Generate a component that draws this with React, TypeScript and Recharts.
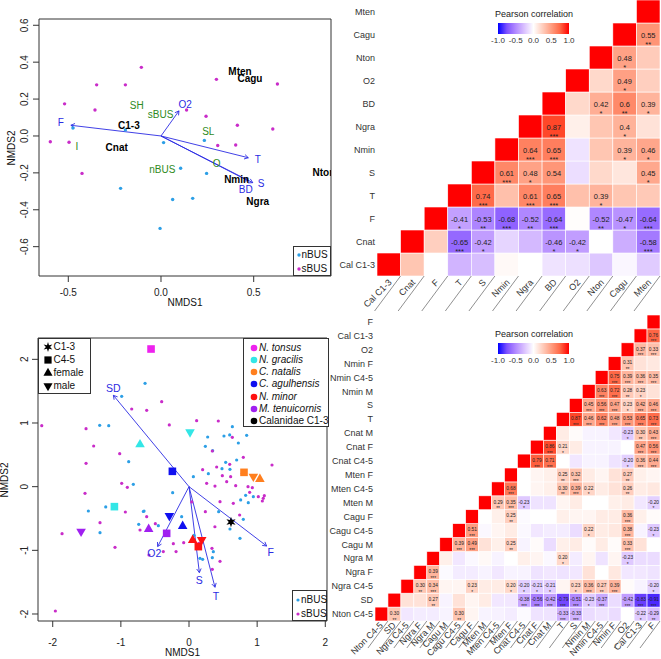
import React from 'react';
import { ScatterChart, Scatter, XAxis, YAxis, ReferenceLine, ReferenceArea } from 'recharts';

const FONT = '"Liberation Sans", Arial, Helvetica, sans-serif';
const NBUS_COL = '#2C9FE6';
const SBUS_COL = '#C92CC9';
const ARROW_COL = '#2B2BE3';
const FACTOR_COL = '#2E8B22';
const FRAME = '#333';

// ---------- top left: NMDS of stations ----------
const topNbus = [
  [-0.475, 0.043], [-0.192, 0.033], [0.014, -0.036], [0.234, -0.024], [0.106, -0.175],
  [0.246, -0.203], [-0.218, -0.284], [0.063, -0.344], [0.171, -0.338], [-0.005, -0.501],
];
const topSbus = [
  [-0.106, 0.372], [-0.347, 0.277], [-0.192, 0.277], [-0.52, 0.174], [-0.356, 0.141],
  [0.138, 0.141], [0.299, 0.307], [0.628, 0.282], [0.243, 0.107], [0.412, 0.058],
  [0.603, 0.038], [-0.597, -0.031], [-0.496, -0.034], [0.306, -0.052], [0.403, -0.049],
  [-0.426, -0.203],
];
const topVectors = [
  { name: 'F', x: -0.486, y: 0.058, lx: -0.541, ly: 0.072 },
  { name: 'O2', x: 0.097, y: 0.136, lx: 0.131, ly: 0.172 },
  { name: 'T', x: 0.471, y: -0.118, lx: 0.522, ly: -0.127 },
  { name: 'S', x: 0.495, y: -0.253, lx: 0.54, ly: -0.257 },
  { name: 'BD', x: 0.47, y: -0.243, lx: 0.457, ly: -0.289 },
];
const topTaxa = [
  { name: 'Mten', x: 0.426, y: 0.349 }, { name: 'Cagu', x: 0.48, y: 0.309 },
  { name: 'Nton', x: 0.879, y: -0.199 }, { name: 'C1-3', x: -0.173, y: 0.058 },
  { name: 'Cnat', x: -0.239, y: -0.063 }, { name: 'Nmin', x: 0.408, y: -0.235 },
  { name: 'Ngra', x: 0.522, y: -0.354 },
];
const topFactors = [
  { name: 'SH', x: -0.131, y: 0.163 }, { name: 'sBUS', x: -0.002, y: 0.114 },
  { name: 'SL', x: 0.255, y: 0.024 }, { name: 'I', x: -0.453, y: -0.058 },
  { name: 'nBUS', x: 0.007, y: -0.181 }, { name: 'O', x: 0.3, y: -0.148 },
];

// ---------- bottom left: NMDS of samples ----------
const botNbus = [
  [-0.645, 1.623], [-0.988, 1.419], [-1.311, 0.963], [-1.178, 0.958], [-0.885, 0.393],
  [-0.817, 0.037], [-1.477, -0.382], [-1.222, -0.319], [-1.306, -0.723], [-0.738, -0.592],
  [-0.66, -0.382], [-0.45, -0.613], [-0.24, -0.094], [0.064, 0.157], [0.284, 0.204],
  [0.24, 0.634], [0.274, 0.78], [0.347, 0.565], [0.513, 0.796], [0.597, 0.812],
  [0.636, 0.942], [0.846, 0.806], [0.724, 0.686], [0.699, 0.419], [0.538, 0.382],
  [0.601, 0.272], [0.831, -0.136], [0.87, -0.251], [0.944, -0.157], [0.797, -0.513],
  [0.748, -0.812], [0.601, -0.665], [0.2, -1.141], [0.342, -1.115], [0.357, -1.021],
  [0.161, -1.126], [0.073, -0.764], [0.435, -0.393], [0.758, -0.209], [0.484, 0.283],
  [-0.108, -0.471], [-0.67, -0.39],
];
const botSbus = [
  [-2.161, 0.958], [-1.511, 0.911], [-1.399, 0.639], [-1.511, 0.366], [-1.526, -0.105],
  [-1.306, -0.565], [-1.863, -0.738], [-1.086, -0.953], [-1.961, -1.953], [-1.017, 0.518],
  [-0.841, 1.22], [-0.621, 1.199], [-0.401, 1.335], [-0.289, 0.969], [0.112, 1.037],
  [0.43, 1.031], [0.636, 0.775], [-0.988, 0.052], [-0.905, -0.01], [-0.934, -0.398],
  [-0.621, -0.471], [-0.494, -0.581], [-0.719, -0.681], [-0.23, -0.895], [-0.078, -0.88],
  [0.337, -0.969], [0.455, -1.173], [0.342, -1.298], [0.24, -0.393], [0.259, 0.052],
  [0.381, 0.01], [0.2, 0.267], [0.342, 0.56], [0.489, 0.173], [0.611, 0.157],
  [0.685, 0.016], [0.782, 0.209], [0.797, 0.461], [0.866, 0.0], [0.89, -0.089],
  [0.929, -0.016], [1.017, -0.157], [1.105, -0.141], [1.09, -0.183], [1.218, 0.34],
  [1.076, -0.225], [0.743, -0.445], [0.65, -0.262], [0.597, 0.351], [0.406, 0.309],
  [-0.587, -1.073], [0.147, -0.89], [0.553, 0.079], [0.04, -0.24], [0.455, -0.236],
  [0.38, -0.63], [-0.377, -1.02], [-0.19, -1.02],
];
const botVectors = [
  { name: 'SD', x: -1.11, y: 1.435, lx: -1.11, ly: 1.545 },
  { name: 'F', x: 1.139, y: -0.932, lx: 1.198, ly: -1.031 },
  { name: 'O2', x: -0.46, y: -0.94, lx: -0.509, ly: -1.047 },
  { name: 'S', x: 0.152, y: -1.35, lx: 0.152, ly: -1.466 },
  { name: 'T', x: 0.381, y: -1.58, lx: 0.396, ly: -1.712 },
];
const speciesNames = ['N. tonsus', 'N. gracilis', 'C. natalis', 'C. agulhensis', 'N. minor', 'M. tenuicornis', 'Calanidae C1-3'];
const speciesColors = ['#EE22EE', '#33E6E6', '#FF7F1E', '#1010F0', '#FF1010', '#A020F0', '#000000'];
const stageNames = ['C1-3', 'C4-5', 'female', 'male'];
const stageKeys = ['C1-3', 'C4-5', 'F', 'M'];
const nTonsus = [{ x: -0.557, y: 2.162, stage: 'C4-5' }];
const nGracilis = [{ x: -0.719, y: 0.665, stage: 'F' }, { x: 0.015, y: 0.853, stage: 'M' }, { x: -1.095, y: -0.314, stage: 'C4-5' }];
const cNatalis = [{ x: 0.807, y: 0.225, stage: 'C4-5' }, { x: 0.944, y: 0.157, stage: 'M' }, { x: 1.04, y: 0.12, stage: 'F' }];
const cAgulhensis = [{ x: -0.244, y: 0.241, stage: 'C4-5' }, { x: -0.288, y: -0.461, stage: 'M' }, { x: -0.093, y: -0.618, stage: 'F' }];
const nMinor = [{ x: 0.054, y: -0.838, stage: 'F' }, { x: 0.137, y: -0.942, stage: 'C4-5' }, { x: 0.186, y: -0.838, stage: 'M' }];
const mTenuicornis = [{ x: -1.584, y: -0.707, stage: 'M' }, { x: -0.592, y: -0.665, stage: 'F' }, { x: -0.328, y: -0.733, stage: 'C4-5' }];
const calanidae = [{ x: 0.616, y: -0.555, stage: 'C1-3' }];
const speciesData = [nTonsus, nGracilis, cNatalis, cAgulhensis, nMinor, mTenuicornis, calanidae];

// ---------- top right: correlation matrix (upper triangle, row i holds r(i, j>i)) ----------
const _ = null;
const topVars = ['Cal C1-3', 'Cnat', 'F', 'T', 'S', 'Nmin', 'Ngra', 'BD', 'O2', 'Nton', 'Cagu', 'Mten'];
const topR = [
  [0.3, 0.0, -0.32, -0.28, 0.03, 0.0, -0.12, -0.13, -0.24, -0.04, -0.22],
  [0.25, -0.65, -0.42, -0.18, -0.3, -0.46, -0.42, 0.0, -0.35, -0.58],
  [-0.41, -0.53, -0.68, -0.52, -0.64, 0.01, -0.52, -0.47, -0.64],
  [0.74, 0.33, 0.61, 0.65, 0.33, 0.39, 0.3, 0.28],
  [0.61, 0.48, 0.54, -0.14, 0.2, 0.13, 0.45],
  [0.64, 0.65, -0.12, 0.3, 0.39, 0.46],
  [0.87, 0.08, 0.3, 0.4, 0.15],
  [0.2, 0.42, 0.6, 0.39],
  [0.2, 0.49, 0.25],
  [0.48, 0.27],
  [0.55],
  [],
];
const topStars = [
  [_, _, _, _, _, _, _, _, _, _, _],
  [_, '***', '*', _, _, '*', '*', _, _, '***'],
  ['*', '**', '***', '**', '***', _, '**', '*', '***'],
  ['***', _, '***', '***', _, '*', _, _],
  ['***', '*', '', _, _, _, '*'],
  ['***', '***', _, _, '*', '*'],
  ['***', _, _, '*', _],
  [_, '*', '**', '*'],
  [_, '*', _],
  ['*', _],
  ['**'],
  [],
];

// ---------- bottom right: correlation matrix ----------
const botVars = ['Nton C4-5', 'SD', 'Ngra C4-5', 'Ngra F', 'Ngra M', 'Cagu M', 'Cagu C4-5', 'Cagu F', 'Mten M', 'Mten C4-5', 'Mten F',
  'Cnat C4-5', 'Cnat F', 'Cnat M', 'T', 'S', 'Nmin M', 'Nmin C4-5', 'Nmin F', 'O2', 'Cal C1-3', 'F'];
const botR = [
  [0.30, -0.10, -0.08, -0.08, -0.05, 0.30, 0.05, -0.05, -0.06, -0.08, -0.02, -0.12, -0.12, -0.33, -0.33, -0.15, -0.12, -0.15, 0.0, -0.22, -0.29],
  [0.15, 0.15, 0.27, -0.05, 0.15, 0.05, 0.1, -0.1, -0.1, -0.38, -0.56, -0.42, -0.79, -0.51, -0.23, -0.37, -0.15, -0.42, -0.83, -0.91],
  [0.30, 0.34, 0.05, 0.05, 0.23, 0.1, 0.1, 0.20, -0.20, -0.21, -0.21, 0.05, 0.23, 0.36, 0.27, 0.39, 0.02, -0.05, -0.20],
  [0.39, -0.02, -0.08, -0.08, -0.05, -0.1, -0.05, -0.05, -0.12, -0.1, -0.12, -0.1, 0.15, 0.0, 0.12, -0.1, -0.1, -0.12],
  [0.08, -0.1, -0.03, 0.03, -0.05, 0.0, 0.08, 0.05, -0.03, 0.20, -0.08, 0.05, -0.12, 0.05, -0.23, -0.15, -0.15],
  [0.39, 0.49, 0.15, 0.08, 0.25, -0.05, 0.02, -0.15, 0.08, 0.1, 0.02, 0.1, 0.02, 0.33, 0.15, 0.0],
  [0.51, -0.03, 0.05, 0.1, -0.03, -0.1, -0.08, -0.08, -0.15, 0.22, 0.1, 0.12, 0.38, -0.05, -0.23],
  [0.0, 0.08, 0.25, -0.02, 0.0, 0.0, 0.08, 0.05, 0.05, 0.1, 0.1, 0.36, 0.08, 0.02],
  [0.29, 0.35, -0.23, -0.12, -0.12, 0.05, 0.1, 0.0, 0.0, 0.08, 0.1, -0.1, -0.20],
  [0.68, 0.0, 0.05, 0.08, 0.30, 0.39, 0.22, 0.1, 0.15, 0.26, 0.1, 0.12],
  [0.0, 0.05, 0.08, 0.25, 0.32, 0.1, 0.05, 0.15, 0.27, 0.08, 0.05],
  [0.79, 0.71, 0.0, -0.1, -0.05, -0.05, -0.12, -0.20, 0.36, 0.44],
  [0.86, 0.21, 0.1, -0.05, -0.05, -0.05, 0.0, 0.47, 0.56],
  [0.1, 0.02, -0.05, -0.05, -0.1, -0.23, 0.30, 0.43],
  [0.87, 0.46, 0.62, 0.48, 0.53, 0.65, 0.73],
  [0.45, 0.56, 0.47, 0.23, 0.42, 0.46],
  [0.63, 0.72, 0.28, 0.23, 0.15],
  [0.75, 0.39, 0.36, 0.35],
  [0.31, 0.15, 0.12],
  [0.37, 0.33],
  [0.76],
  [],
];
const botStars = [
  ['**', _, _, _, _, '**', _, _, _, _, _, _, _, '***', '***', _, _, _, _, '*', '**'],
  [_, _, '**', _, _, _, _, _, _, '***', '***', '***', '***', '***', '*', '***', _, '***', '***', '***'],
  ['**', '***', _, _, '*', _, _, '*', '*', '*', '*', _, '*', '***', '**', '***', _, _, '*'],
  ['***', _, _, _, _, _, _, _, _, _, _, _, _, _, _, _, _, _],
  [_, _, _, _, _, _, _, _, _, '*', _, _, _, _, '*', _, _],
  ['***', '***', _, _, '**', _, _, _, _, _, _, _, _, '***', _, _],
  ['***', _, _, _, _, _, _, _, _, '*', _, _, '***', _, '*'],
  [_, _, '**', _, _, _, _, _, _, _, _, '***', _, _],
  ['**', '***', '*', _, _, _, _, _, _, _, _, _, '*'],
  ['***', _, _, _, '**', '***', '*', _, _, '**', _, _],
  [_, _, _, '**', '***', _, _, _, '**', _, _],
  ['***', '***', _, _, _, _, _, '*', '***', '***'],
  ['***', '*', _, _, _, _, _, '***', '***'],
  [_, _, _, _, _, '*', '**', '***'],
  ['***', '***', '***', '***', '***', '***', '***'],
  ['***', '***', '***', '*', '***', '***'],
  ['***', '***', '**', '*', _],
  ['***', '***', '***', '***'],
  ['**', _, _],
  ['***', '***'],
  ['***'],
  [],
];

// ---------- colour scale (blue - white - red, interpolated in Lab) ----------
const toLin = (c: number) => { c /= 255; return c <= 0.04045 ? c / 12.92 : Math.pow((c + 0.055) / 1.055, 2.4); };
const fromLin = (c: number) => {
  const v = c <= 0.0031308 ? 12.92 * c : 1.055 * Math.pow(c, 1 / 2.4) - 0.055;
  return Math.round(Math.min(1, Math.max(0, v)) * 255);
};
const EPS = 216 / 24389, KAP = 24389 / 27;
const fLab = (t: number) => (t > EPS ? Math.cbrt(t) : (KAP * t + 16) / 116);
const fInv = (t: number) => (t * t * t > EPS ? t * t * t : (116 * t - 16) / KAP);
function rgb2lab(rgb: number[]) {
  const [r, g, b] = rgb.map(toLin);
  const X = (0.4124564 * r + 0.3575761 * g + 0.1804375 * b) / 0.95047;
  const Y = 0.2126729 * r + 0.7151522 * g + 0.072175 * b;
  const Z = (0.0193339 * r + 0.119192 * g + 0.9503041 * b) / 1.08883;
  const fx = fLab(X), fy = fLab(Y), fz = fLab(Z);
  return [116 * fy - 16, 500 * (fx - fy), 200 * (fy - fz)];
}
function lab2rgb([L, a, b]: number[]) {
  const fy = (L + 16) / 116, fx = fy + a / 500, fz = fy - b / 200;
  const X = fInv(fx) * 0.95047, Y = L > 8 ? fy * fy * fy : L / KAP, Z = fInv(fz) * 1.08883;
  const r = 3.2404542 * X - 1.5371385 * Y - 0.4985314 * Z;
  const g = -0.969266 * X + 1.8760108 * Y + 0.041556 * Z;
  const bl = 0.0556434 * X - 0.2040259 * Y + 1.0572252 * Z;
  return `rgb(${fromLin(r)},${fromLin(g)},${fromLin(bl)})`;
}
const LAB_W = rgb2lab([255, 255, 255]);
const LAB_R = rgb2lab([255, 0, 0]);
const LAB_B = rgb2lab([0, 0, 255]);
const corrColor = (v: number) => {
  const t = Math.min(1, Math.abs(v));
  const end = v >= 0 ? LAB_R : LAB_B;
  return lab2rgb(LAB_W.map((w, k) => w + (end[k] - w) * t));
};

// ---------- shared pieces ----------
const toPts = (arr: number[][]) => arr.map(([x, y]) => ({ x, y }));

const dot = (color: string, r = 1.7) => (p: any) => <circle cx={p.cx} cy={p.cy} r={r} fill={color} />;

const textShape = (color: string, weight: string | number, size = 10) => (p: any) => (
  <text x={p.cx} y={p.cy} textAnchor="middle" dominantBaseline="central" fill={color}
    fontWeight={weight} fontSize={size} fontFamily={FONT}>{p.payload.name}</text>
);

const arrowShape = (p: any) => {
  const { x1, y1, x2, y2 } = p;
  const a = Math.atan2(y2 - y1, x2 - x1);
  const L = 4.5, w = Math.PI / 6;
  const d = `M${x2 - L * Math.cos(a - w)},${y2 - L * Math.sin(a - w)} L${x2},${y2} L${x2 - L * Math.cos(a + w)},${y2 - L * Math.sin(a + w)}`;
  return (
    <g>
      <line x1={x1} y1={y1} x2={x2} y2={y2} stroke={ARROW_COL} strokeWidth={0.9} />
      <path d={d} fill="none" stroke={ARROW_COL} strokeWidth={0.9} />
    </g>
  );
};

function StageMark({ x, y, stage, color, s = 1 }: any) {
  if (stage === 'C4-5') return <rect x={x - 3.8 * s} y={y - 3.8 * s} width={7.6 * s} height={7.6 * s} fill={color} />;
  if (stage === 'F') return <polygon points={`${x},${y - 5.4 * s} ${x + 4.8 * s},${y + 3 * s} ${x - 4.8 * s},${y + 3 * s}`} fill={color} />;
  if (stage === 'M') return <polygon points={`${x},${y + 5.4 * s} ${x + 4.8 * s},${y - 3 * s} ${x - 4.8 * s},${y - 3 * s}`} fill={color} />;
  const pts: string[] = [];
  for (let k = 0; k < 12; k++) {
    const ang = (Math.PI / 6) * k - Math.PI / 2;
    const r = k % 2 === 0 ? 5.3 * s : 2.2 * s;
    pts.push(`${x + r * Math.cos(ang)},${y + r * Math.sin(ang)}`);
  }
  return <polygon points={pts.join(' ')} fill={color} />;
}

const stageShape = (color: string) => (p: any) => <StageMark x={p.cx} y={p.cy} stage={p.payload.stage} color={color} />;

function XTick(p: any) {
  const { x, y, payload, dy, fmt } = p;
  return <text x={x} y={y + dy} textAnchor="middle" fontSize={10} fill="#222" fontFamily={FONT}>{fmt(payload.value)}</text>;
}
function YTick(p: any) {
  const { x, y, payload, dx, fmt } = p;
  const tx = x + dx;
  return <text x={tx} y={y} transform={`rotate(-90 ${tx} ${y})`} textAnchor="middle" fontSize={10} fill="#222" fontFamily={FONT}>{fmt(payload.value)}</text>;
}

function Txt({ x, y, rot = 0, size = 10, style, children }: any) {
  return (
    <div style={{ position: 'absolute', left: x, top: y, transform: `translate(-50%,-50%) rotate(${rot}deg)`, fontSize: size,
      lineHeight: 1, whiteSpace: 'nowrap', fontFamily: FONT, color: '#111', ...style }}>{children}</div>
  );
}

function Box({ left, top, width, height, children }: any) {
  return (
    <div style={{ position: 'absolute', left, top, width, height, border: `1px solid ${FRAME}`, boxSizing: 'border-box', background: '#fff', fontFamily: FONT }}>
      {children}
    </div>
  );
}

function LegendItem({ x, y, tx, label, italic, children }: any) {
  return (
    <>
      <svg style={{ position: 'absolute', left: x - 7, top: y - 7 }} width={14} height={14}>{children}</svg>
      <div style={{ position: 'absolute', left: tx, top: y - 6, fontSize: 10, lineHeight: '12px', whiteSpace: 'nowrap',
        fontStyle: italic ? 'italic' : 'normal', color: '#111' }}>{label}</div>
    </>
  );
}

// ---------- panels ----------
function TopNmds() {
  const xd = [-0.658, 0.917], yd = [-0.759, 0.634];
  const f1 = (v: number) => v.toFixed(1);
  return (
    <ScatterChart width={332} height={330} margin={{ top: 19, right: 1, bottom: 0, left: 0 }}>
      <XAxis type="number" dataKey="x" domain={xd} ticks={[-0.5, 0, 0.5]} allowDataOverflow axisLine={false}
        tickLine={{ stroke: FRAME }} tickSize={6} tickMargin={0} height={54} tick={<XTick dy={14.3} fmt={f1} />} />
      <YAxis type="number" dataKey="y" domain={yd} ticks={[-0.6, -0.4, -0.2, 0, 0.2, 0.4, 0.6]} allowDataOverflow axisLine={false}
        tickLine={{ stroke: FRAME }} tickSize={6} tickMargin={0} width={39} tick={<YTick dx={-5.4} fmt={f1} />} />
      <ReferenceArea x1={xd[0]} x2={xd[1]} y1={yd[0]} y2={yd[1]} fill="none" stroke={FRAME} strokeWidth={1} ifOverflow="visible" />
      <Scatter data={toPts(topNbus)} shape={dot(NBUS_COL)} isAnimationActive={false} />
      <Scatter data={toPts(topSbus)} shape={dot(SBUS_COL)} isAnimationActive={false} />
      {topVectors.map((v) => (
        <ReferenceLine key={v.name} segment={[{ x: 0, y: 0 }, { x: v.x, y: v.y }]} shape={arrowShape} ifOverflow="visible" />
      ))}
      <Scatter data={topFactors} shape={textShape(FACTOR_COL, 'normal')} isAnimationActive={false} />
      <Scatter data={topTaxa} shape={textShape('#000', 'bold')} isAnimationActive={false} />
      <Scatter data={topVectors.map((v) => ({ x: v.lx, y: v.ly, name: v.name }))} shape={textShape(ARROW_COL, 'normal')} isAnimationActive={false} />
    </ScatterChart>
  );
}

function BottomNmds() {
  const xd = [-2.216, 2.025], yd = [-2.11, 2.335];
  const f0 = (v: number) => String(v);
  return (
    <ScatterChart width={332} height={329} margin={{ top: 8, right: 5, bottom: 0, left: 0 }}>
      <XAxis type="number" dataKey="x" domain={xd} ticks={[-2, -1, 0, 1, 2]} allowDataOverflow axisLine={false}
        tickLine={{ stroke: FRAME }} tickSize={6} tickMargin={0} height={38} tick={<XTick dy={18.6} fmt={f0} />} />
      <YAxis type="number" dataKey="y" domain={yd} ticks={[-2, -1, 0, 1, 2]} allowDataOverflow axisLine={false}
        tickLine={{ stroke: FRAME }} tickSize={6} tickMargin={0} width={38} tick={<YTick dx={-4.4} fmt={f0} />} />
      <ReferenceArea x1={xd[0]} x2={xd[1]} y1={yd[0]} y2={yd[1]} fill="none" stroke={FRAME} strokeWidth={1} ifOverflow="visible" />
      <Scatter data={toPts(botNbus)} shape={dot(NBUS_COL, 1.6)} isAnimationActive={false} />
      <Scatter data={toPts(botSbus)} shape={dot(SBUS_COL, 1.6)} isAnimationActive={false} />
      {botVectors.map((v) => (
        <ReferenceLine key={v.name} segment={[{ x: 0, y: 0 }, { x: v.x, y: v.y }]} shape={arrowShape} ifOverflow="visible" />
      ))}
      {speciesData.map((d, k) => (
        <Scatter key={speciesNames[k]} data={d} shape={stageShape(speciesColors[k])} isAnimationActive={false} />
      ))}
      <Scatter data={botVectors.map((v) => ({ x: v.lx, y: v.ly, name: v.name }))} shape={textShape(ARROW_COL, 'normal', 10.5)} isAnimationActive={false} />
    </ScatterChart>
  );
}

function RowTick(p: any) {
  const { x, y, payload, names, fs } = p;
  return <text x={x} y={y} textAnchor="end" dominantBaseline="central" fontSize={fs} fill="#333" fontFamily={FONT}>{names[payload.value]}</text>;
}
function ColTick(p: any) {
  const { x, y, payload, names, fs, cw, ax, ay, lx, ly } = p;
  const tx = x + ax, ty = y + ay, rx = x + cw / 2;
  return (
    <g>
      <line x1={rx} y1={y} x2={rx + lx} y2={y + ly} stroke="#444" strokeWidth={0.6} />
      <text x={tx} y={ty} transform={`rotate(-45 ${tx} ${ty})`} textAnchor="end" fontSize={fs} fill="#333" fontFamily={FONT}>{names[payload.value]}</text>
    </g>
  );
}

function CorrMatrix({ names, vals, stars, fmt, w, h, yW, xH, top, rowFs, valFs, valDy, starDy, ax, ay, lx, ly }: any) {
  const n = names.length;
  const cw = (w - yW - 1) / n, ch = (h - top - xH) / n;
  const cells: any[] = [];
  names.forEach((_n: string, i: number) => {
    cells.push({ x: i, y: i, v: 1, s: null });
    vals[i].forEach((v: number, k: number) => cells.push({ x: i + 1 + k, y: i, v, s: stars[i][k] }));
  });
  const ticks = names.map((_n: string, i: number) => i);
  const cellShape = (p: any) => {
    const { cx, cy, payload } = p;
    const show = payload.s !== null && payload.s !== undefined;
    return (
      <g>
        <rect x={cx - cw / 2} y={cy - ch / 2} width={cw} height={ch} fill={corrColor(payload.v)} stroke="#fff" strokeWidth={0.6} />
        {show && (
          <text x={cx} y={cy + valDy} textAnchor="middle" dominantBaseline="central" fontSize={valFs} fill="#222" fontFamily={FONT}>{fmt(payload.v)}</text>
        )}
        {show && payload.s && (
          <text x={cx} y={cy + starDy} textAnchor="middle" fontSize={valFs} fill="#222" fontFamily={FONT}>{payload.s}</text>
        )}
      </g>
    );
  };
  return (
    <ScatterChart width={w} height={h} margin={{ top, right: 1, bottom: 0, left: 0 }}>
      <XAxis type="number" dataKey="x" domain={[-0.5, n - 0.5]} ticks={ticks} interval={0} allowDataOverflow axisLine={false}
        tickLine={false} tickSize={0} tickMargin={0} height={xH}
        tick={<ColTick names={names} fs={rowFs} cw={cw} ax={ax} ay={ay} lx={lx} ly={ly} />} />
      <YAxis type="number" dataKey="y" domain={[-0.5, n - 0.5]} ticks={ticks} interval={0} allowDataOverflow axisLine={false}
        tickLine={false} tickSize={0} tickMargin={2} width={yW} tick={<RowTick names={names} fs={rowFs} />} />
      <Scatter data={cells} shape={cellShape} isAnimationActive={false} />
    </ScatterChart>
  );
}

function ColorBar({ top }: any) {
  const steps = [-1, -0.75, -0.5, -0.25, 0, 0.25, 0.5, 0.75, 1];
  const grad = steps.map((v) => `${corrColor(v)} ${((v + 1) / 2) * 100}%`).join(', ');
  const x0 = 498, bw = 71;
  return (
    <>
      <div style={{ position: 'absolute', left: 495, top: top, fontSize: 9, lineHeight: '11px', fontFamily: FONT, color: '#222', whiteSpace: 'nowrap' }}>
        Pearson correlation
      </div>
      <div style={{ position: 'absolute', left: x0, top: top + 14, width: bw, height: 11, background: `linear-gradient(to right, ${grad})` }} />
      {[-1, -0.5, 0, 0.5, 1].map((v) => (
        <Txt key={v} x={x0 + ((v + 1) / 2) * bw} y={top + 32} size={8} style={{ color: '#333' }}>{v.toFixed(1)}</Txt>
      ))}
    </>
  );
}

export default function App() {
  return (
    <div style={{ position: 'absolute', left: 0, top: 0, width: 661, height: 659, background: '#fff', overflow: 'hidden', fontFamily: FONT }}>
      <div style={{ position: 'absolute', left: 0, top: 0 }}><TopNmds /></div>
      <Txt x={185} y={303}>NMDS1</Txt>
      <Txt x={11.7} y={147.5} rot={-90}>NMDS2</Txt>
      <Box left={293} top={246} width={38} height={30}>
        <LegendItem x={4.5} y={7.5} tx={7.5} label="nBUS"><circle cx={7} cy={7} r={1.7} fill={NBUS_COL} /></LegendItem>
        <LegendItem x={4.5} y={21.5} tx={7.5} label="sBUS"><circle cx={7} cy={7} r={1.7} fill={SBUS_COL} /></LegendItem>
      </Box>

      <div style={{ position: 'absolute', left: 0, top: 330 }}><BottomNmds /></div>
      <Txt x={182.5} y={652.7}>NMDS1</Txt>
      <Txt x={5} y={479.5} rot={-90}>NMDS2</Txt>
      <Box left={38} top={338} width={53} height={56}>
        {stageNames.map((s, k) => (
          <LegendItem key={s} x={8.5} y={8 + k * 13} tx={14.5} label={s}>
            <StageMark x={7} y={7} stage={stageKeys[k]} color="#000" s={0.95} />
          </LegendItem>
        ))}
      </Box>
      <Box left={243} top={338} width={86} height={89}>
        {speciesNames.map((s, k) => (
          <LegendItem key={s} x={9.5} y={8.5 + k * 12.3} tx={15} label={s} italic={k < 6}>
            <circle cx={7} cy={7} r={3.3} fill={speciesColors[k]} />
          </LegendItem>
        ))}
      </Box>
      <Box left={292} top={590} width={35} height={31}>
        <LegendItem x={5} y={8.5} tx={8} label="nBUS"><circle cx={7} cy={7} r={1.6} fill={NBUS_COL} /></LegendItem>
        <LegendItem x={5} y={22.5} tx={8} label="sBUS"><circle cx={7} cy={7} r={1.6} fill={SBUS_COL} /></LegendItem>
      </Box>

      <div style={{ position: 'absolute', left: 332, top: 0, background: '#fff' }}>
        <CorrMatrix names={topVars} vals={topR} stars={topStars} fmt={(v: number) => String(v)}
          w={329} h={316} yW={45} xH={40} top={0} rowFs={9} valFs={7.5} valDy={1.2} starDy={12.8}
          ax={3.5} ay={7} lx={-26} ly={35} />
      </div>
      <div style={{ position: 'absolute', left: 326, top: 310 }}>
        <CorrMatrix names={botVars} vals={botR} stars={botStars} fmt={(v: number) => v.toFixed(2)}
          w={335} h={349} yW={49} xH={38} top={5} rowFs={9} valFs={4.8} valDy={-0.7} starDy={7.6}
          ax={2} ay={5} lx={-20} ly={27} />
      </div>
      <ColorBar top={9} />
      <ColorBar top={329} />
    </div>
  );
}
